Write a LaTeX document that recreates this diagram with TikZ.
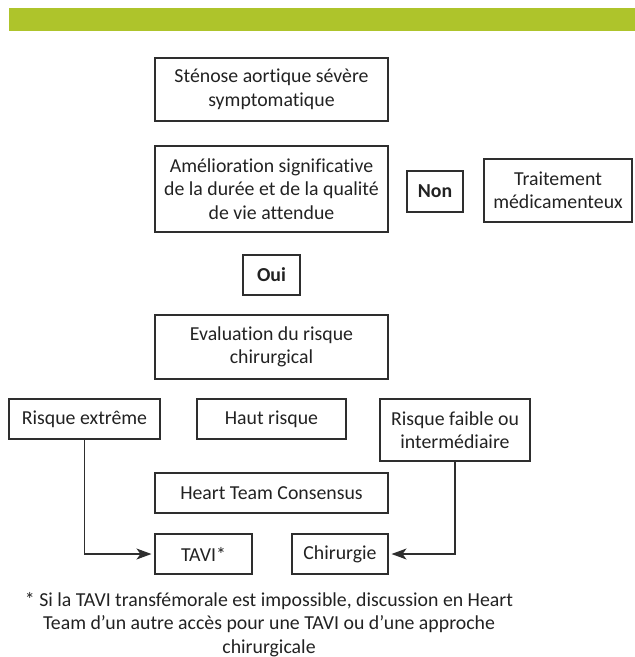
\documentclass[tikz,border=0pt]{standalone}
\usepackage{fontspec}
\setmainfont{Carlito}[Ligatures=NoCommon]
\usetikzlibrary{arrows.meta}
\definecolor{barGreen}{HTML}{AEC42B}
\definecolor{ink}{HTML}{222222}
\definecolor{edge}{HTML}{2E2E2E}
\begin{document}
\begin{tikzpicture}[x=1pt,y=-1pt,
  txt/.style={font=\fontsize{19.8}{23.5}\selectfont},
  box/.style={draw=edge,line width=1.1pt,inner sep=0pt,align=center,text=ink,txt},
  conn/.style={draw=edge,line width=1.1pt,-{Stealth[length=15pt,width=11pt,inset=4pt]},shorten >=3pt},
]
\useasboundingbox (0,0) rectangle (635,657);
\fill[barGreen] (9,8) rectangle (635,31);
\node[box,minimum width=233pt,minimum height=63pt] (sten) at (271.5,89.5) {Sténose aortique sévère\\symptomatique};
\node[box,minimum width=233pt,minimum height=86pt] (amel) at (271.5,189) {Amélioration significative\\de la durée et de la qualité\\de vie attendue};
\node[box,minimum width=56pt,minimum height=41pt,font=\fontsize{19.8}{23.5}\selectfont\bfseries] (non) at (435,191.5) {Non};
\node[box,minimum width=148pt,minimum height=63pt] (trait) at (558,190.5) {Traitement\\médicamenteux};
\node[box,minimum width=57pt,minimum height=40pt,font=\fontsize{19.8}{23.5}\selectfont\bfseries] (oui) at (271.5,275) {Oui};
\node[box,minimum width=233pt,minimum height=64pt] (eval) at (271.5,347) {Evaluation du risque\\chirurgical};
\node[box,minimum width=151pt,minimum height=40pt] (rext) at (84.5,419) {Risque extrême};
\node[box,minimum width=149pt,minimum height=40pt] (haut) at (271.5,419) {Haut risque};
\node[box,minimum width=150pt,minimum height=62pt] (rfai) at (455,430) {Risque faible ou\\intermédiaire};
\node[box,minimum width=233pt,minimum height=40pt] (heart) at (271.5,493) {Heart Team Consensus};
\node[box,minimum width=97pt,minimum height=40pt] (tavi) at (203.5,554) {TAVI*};
\node[box,minimum width=96pt,minimum height=40pt] (chir) at (340,554) {Chirurgie};
\node[align=center,text=ink,inner sep=0pt,txt] (foot) at (269,624.5) {* Si la TAVI transfémorale est impossible, discussion en Heart\\Team d’un autre accès pour une TAVI ou d’une approche\\chirurgicale};
\draw[conn] (rext.south) |- (tavi.west);
\draw[conn] (rfai.south) |- (chir.east);
\end{tikzpicture}
\end{document}
